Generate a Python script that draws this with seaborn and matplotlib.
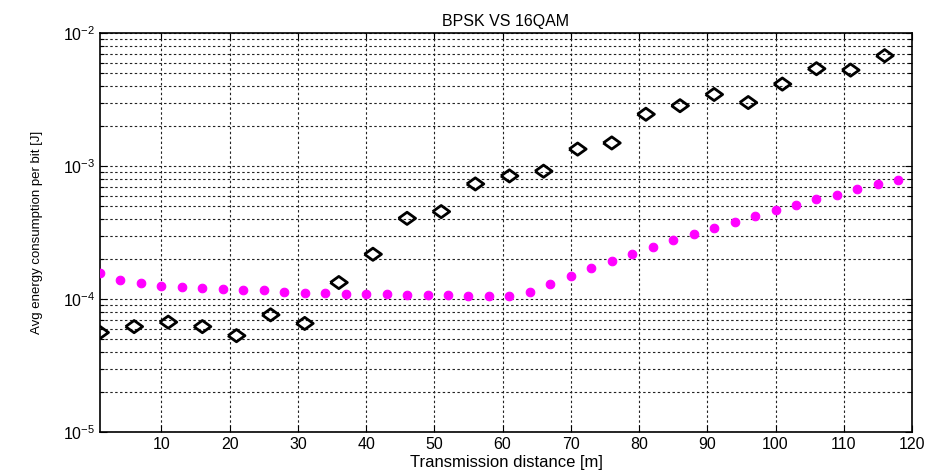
import numpy as np
import pandas as pd
import matplotlib
matplotlib.use("Agg")
import matplotlib.pyplot as plt
import seaborn as sns
from matplotlib.ticker import LogLocator, FixedLocator, NullFormatter

sns.set_style("ticks")
plt.rcParams['font.family'] = ['Liberation Sans', 'DejaVu Sans']
plt.rcParams['mathtext.fontset'] = 'custom'
plt.rcParams['mathtext.rm'] = 'Liberation Sans'
plt.rcParams['mathtext.it'] = 'Liberation Sans'
plt.rcParams['mathtext.bf'] = 'Liberation Sans'
plt.rcParams['text.color'] = 'black'
plt.rcParams['axes.labelcolor'] = 'black'

# ---- data ----
title = "BPSK VS 16QAM"
x_label = "Transmission distance [m]"
y_label = "Avg energy consumption per bit [J]"

bpsk_x = [1, 6, 11, 16, 21, 26, 31, 36, 41, 46, 51, 56, 61, 66, 71, 76, 81, 86,
          91, 96, 101, 106, 111, 116]
bpsk_y = [5.6e-5, 6.2e-5, 6.7e-5, 6.2e-5, 5.3e-5, 7.6e-5, 6.55e-5, 1.33e-4,
          2.17e-4, 4.04e-4, 4.54e-4, 7.33e-4, 8.42e-4, 9.14e-4, 1.34e-3,
          1.49e-3, 2.45e-3, 2.84e-3, 3.45e-3, 3.0e-3, 4.13e-3, 5.39e-3,
          5.26e-3, 6.75e-3]

qam_x = [1, 4, 7, 10, 13, 16, 19, 22, 25, 28, 31, 34, 37, 40, 43, 46, 49, 52,
         55, 58, 61, 64, 67, 70, 73, 76, 79, 82, 85, 88, 91, 94, 97, 100, 103,
         106, 109, 112, 115, 118]
qam_y = [1.57e-4, 1.40e-4, 1.31e-4, 1.26e-4, 1.24e-4, 1.21e-4, 1.19e-4,
         1.16e-4, 1.16e-4, 1.13e-4, 1.11e-4, 1.11e-4, 1.09e-4, 1.09e-4,
         1.09e-4, 1.07e-4, 1.07e-4, 1.07e-4, 1.05e-4, 1.05e-4, 1.05e-4,
         1.12e-4, 1.29e-4, 1.48e-4, 1.71e-4, 1.93e-4, 2.17e-4, 2.46e-4,
         2.76e-4, 3.06e-4, 3.43e-4, 3.81e-4, 4.21e-4, 4.67e-4, 5.07e-4,
         5.62e-4, 6.09e-4, 6.73e-4, 7.30e-4, 7.90e-4]

x_ticks = [10, 20, 30, 40, 50, 60, 70, 80, 90, 100, 110, 120]

df_b = pd.DataFrame({"x": bpsk_x, "y": bpsk_y})
df_q = pd.DataFrame({"x": qam_x, "y": qam_y})

W, H = 934, 475
fig = plt.figure(figsize=(W / 100, H / 100), dpi=100)
ax = fig.add_axes([100 / W, 1 - 432 / H, 812 / W, 399 / H])

ax.set_yscale("log")

grid_kw = dict(color="#222222", linestyle=(0, (2.2, 2.2)), linewidth=0.8)
ax.set_axisbelow(True)
ax.grid(True, which="major", axis="both", **grid_kw)
ax.grid(True, which="minor", axis="y", **grid_kw)

diamond = [(-1, 0), (0, 0.72), (1, 0), (0, -0.72), (-1, 0)]
sns.scatterplot(data=df_b, x="x", y="y", ax=ax, marker=diamond, s=150,
                facecolor="none", edgecolor="black", linewidth=2.0, zorder=3)
sns.scatterplot(data=df_q, x="x", y="y", ax=ax, marker="o", s=38,
                color="#ff00ff", edgecolor="#ff00ff", linewidth=0.8, zorder=3)

ax.set_xlim(1, 120)
ax.set_ylim(1e-5, 1e-2)
ax.xaxis.set_major_locator(FixedLocator(x_ticks))
ax.yaxis.set_major_locator(LogLocator(base=10, numticks=10))
ax.yaxis.set_minor_locator(LogLocator(base=10, subs=np.arange(2, 10), numticks=20))
ax.yaxis.set_minor_formatter(NullFormatter())

ax.tick_params(which="both", direction="in", top=True, right=True,
               labelsize=11.5, colors="black", width=0.8)
ax.tick_params(which="major", length=5)
ax.tick_params(which="minor", length=3)
for sp in ax.spines.values():
    sp.set_visible(True)
    sp.set_linewidth(1.2)
    sp.set_color("black")

ax.set_title(title, fontsize=11.5, pad=5, color="black")
ax.set_xlabel(x_label, fontsize=12, labelpad=2, color="black")
ax.set_ylabel(y_label, fontsize=9.5, labelpad=14, color="black")

fig.savefig("out.png", dpi=100)
